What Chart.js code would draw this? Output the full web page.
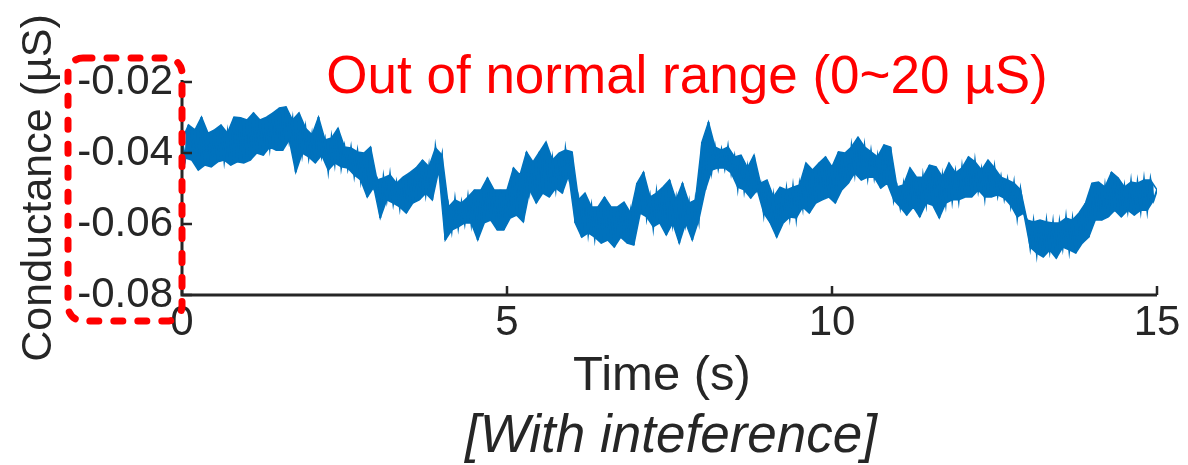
<!DOCTYPE html>
<html>
<head>
<meta charset="utf-8">
<script src="https://cdn.jsdelivr.net/npm/chart.js@4.4.1/dist/chart.umd.min.js"></script>
<style>
  html, body { margin: 0; padding: 0; background: #fff; }
  #wrap { width: 1188px; height: 465px; }
</style>
</head>
<body>
<div id="wrap"><canvas id="chart" width="1188" height="465"></canvas></div>
<script>
var SAMPLE_STEP = 0.05;
var conductance = [
  -0.0363, -0.0414, -0.0321, -0.0420, -0.0335, -0.0448, -0.0299, -0.0434, -0.0344, -0.0439,
  -0.0335, -0.0425, -0.0321, -0.0420, -0.0344, -0.0434, -0.0299, -0.0425, -0.0301, -0.0428,
  -0.0307, -0.0420, -0.0287, -0.0400, -0.0307, -0.0406, -0.0299, -0.0383, -0.0287, -0.0392,
  -0.0273, -0.0392, -0.0270, -0.0363, -0.0307, -0.0454, -0.0287, -0.0400, -0.0330, -0.0411,
  -0.0349, -0.0428, -0.0299, -0.0406, -0.0363, -0.0448, -0.0358, -0.0428, -0.0330, -0.0439,
  -0.0383, -0.0442, -0.0386, -0.0462, -0.0397, -0.0476, -0.0400, -0.0524, -0.0383, -0.0496,
  -0.0476, -0.0583, -0.0470, -0.0532, -0.0462, -0.0541, -0.0485, -0.0552, -0.0468, -0.0569,
  -0.0456, -0.0541, -0.0442, -0.0532, -0.0420, -0.0513, -0.0439, -0.0532, -0.0386, -0.0448,
  -0.0406, -0.0645, -0.0552, -0.0617, -0.0532, -0.0608, -0.0541, -0.0597, -0.0524, -0.0597,
  -0.0504, -0.0645, -0.0504, -0.0597, -0.0470, -0.0589, -0.0504, -0.0617, -0.0504, -0.0617,
  -0.0504, -0.0583, -0.0442, -0.0575, -0.0462, -0.0594, -0.0397, -0.0504, -0.0425, -0.0541,
  -0.0397, -0.0513, -0.0369, -0.0524, -0.0420, -0.0499, -0.0400, -0.0513, -0.0392, -0.0462,
  -0.0397, -0.0597, -0.0532, -0.0637, -0.0513, -0.0625, -0.0552, -0.0637, -0.0552, -0.0654,
  -0.0524, -0.0645, -0.0552, -0.0665, -0.0552, -0.0637, -0.0538, -0.0654, -0.0569, -0.0659,
  -0.0485, -0.0569, -0.0454, -0.0580, -0.0524, -0.0608, -0.0513, -0.0597, -0.0496, -0.0631,
  -0.0476, -0.0597, -0.0532, -0.0654, -0.0485, -0.0597, -0.0541, -0.0645, -0.0532, -0.0589,
  -0.0369, -0.0504, -0.0313, -0.0448, -0.0383, -0.0442, -0.0392, -0.0442, -0.0383, -0.0456,
  -0.0411, -0.0496, -0.0406, -0.0504, -0.0442, -0.0527, -0.0406, -0.0504, -0.0485, -0.0569,
  -0.0476, -0.0597, -0.0524, -0.0637, -0.0496, -0.0597, -0.0504, -0.0580, -0.0496, -0.0583,
  -0.0490, -0.0552, -0.0428, -0.0569, -0.0448, -0.0541, -0.0428, -0.0532, -0.0411, -0.0524,
  -0.0439, -0.0541, -0.0397, -0.0504, -0.0400, -0.0485, -0.0383, -0.0456, -0.0355, -0.0476,
  -0.0383, -0.0468, -0.0397, -0.0468, -0.0411, -0.0499, -0.0377, -0.0485, -0.0383, -0.0532,
  -0.0496, -0.0552, -0.0490, -0.0575, -0.0442, -0.0552, -0.0468, -0.0580, -0.0468, -0.0541,
  -0.0434, -0.0547, -0.0439, -0.0583, -0.0468, -0.0541, -0.0428, -0.0532, -0.0456, -0.0532,
  -0.0442, -0.0524, -0.0411, -0.0524, -0.0425, -0.0504, -0.0448, -0.0524, -0.0420, -0.0524,
  -0.0442, -0.0518, -0.0468, -0.0527, -0.0476, -0.0547, -0.0485, -0.0580, -0.0504, -0.0569,
  -0.0589, -0.0665, -0.0594, -0.0682, -0.0589, -0.0693, -0.0594, -0.0673, -0.0597, -0.0696,
  -0.0597, -0.0665, -0.0583, -0.0673, -0.0589, -0.0682, -0.0569, -0.0654, -0.0541, -0.0637,
  -0.0485, -0.0589, -0.0482, -0.0589, -0.0496, -0.0580, -0.0454, -0.0561, -0.0470, -0.0580,
  -0.0496, -0.0561, -0.0482, -0.0575, -0.0485, -0.0561, -0.0476, -0.0561, -0.0476, -0.0532,
  -0.0504
];
var xTicks = [0, 5, 10, 15];
var yTicks = [-0.08, -0.06, -0.04, -0.02];
var chartTitle = 'Out of normal range (0~20 µS)';
var xLabel = 'Time (s)';
var yLabel = 'Conductance (µS)';
var caption = '[With inteference]';

var FONT = '"Liberation Sans", Arial, Helvetica, sans-serif';
var AXIS = '#262626';
var BLUE = '#0072BD';
var points = conductance.map(function (v, i) { return {x: i * SAMPLE_STEP, y: v}; });
// the noisy trace is dense: its peaks and troughs form a filled band
var peaks = points.filter(function (p, i) { return i % 2 === 0; });
var troughs = points.filter(function (p, i) { return i % 2 === 1; });

// axis lines + inward ticks (MATLAB style), labels, red dashed box
var decor = {
  id: 'decor',
  afterDraw: function (chart) {
    var ctx = chart.ctx, a = chart.chartArea;
    var xs = chart.scales.x, ys = chart.scales.y;
    ctx.save();
    ctx.strokeStyle = AXIS;
    ctx.lineWidth = 3;
    ctx.beginPath();
    ctx.moveTo(a.left, a.top - 2); ctx.lineTo(a.left, a.bottom); ctx.lineTo(a.right, a.bottom);
    ctx.stroke();
    ctx.lineWidth = 2.5;
    ctx.beginPath();
    xTicks.forEach(function (t) {
      var px = xs.getPixelForValue(t);
      ctx.moveTo(px, a.bottom); ctx.lineTo(px, a.bottom - 9);
    });
    yTicks.forEach(function (t) {
      var py = ys.getPixelForValue(t);
      ctx.moveTo(a.left, py); ctx.lineTo(a.left + 10, py);
    });
    ctx.stroke();

    ctx.fillStyle = AXIS;
    ctx.textAlign = 'center';
    ctx.textBaseline = 'alphabetic';
    ctx.font = '49px ' + FONT;
    ctx.fillText(xLabel, 662, 390);
    ctx.font = 'italic 53px ' + FONT;
    ctx.fillText(caption, 671, 452);
    ctx.save();
    ctx.translate(51, 188);
    ctx.rotate(-Math.PI / 2);
    ctx.font = '43px ' + FONT;
    ctx.fillText(yLabel, 0, 0);
    ctx.restore();

    ctx.fillStyle = '#FF0000';
    ctx.font = '53px ' + FONT;
    ctx.fillText(chartTitle, 687, 93);

    ctx.strokeStyle = '#FF0000';
    ctx.lineWidth = 7;
    ctx.lineCap = 'round';
    ctx.setLineDash([9, 15]);
    ctx.beginPath();
    ctx.roundRect(68, 58, 114, 263, 15);
    ctx.stroke();
    ctx.restore();
  }
};

new Chart(document.getElementById('chart'), {
  type: 'scatter',
  data: {
    datasets: [
      {data: points, showLine: true, borderColor: BLUE, borderWidth: 2, pointRadius: 0, tension: 0},
      {data: peaks, showLine: true, borderColor: BLUE, borderWidth: 1.5, pointRadius: 0, tension: 0},
      {data: troughs, showLine: true, borderColor: BLUE, borderWidth: 1.5, pointRadius: 0, tension: 0,
       fill: 1, backgroundColor: BLUE}
    ]
  },
  options: {
    responsive: false,
    animation: false,
    devicePixelRatio: 1,
    layout: {padding: {left: 0, right: 31, top: 82, bottom: 0}},
    plugins: {legend: {display: false}, tooltip: {enabled: false}},
    scales: {
      x: {
        type: 'linear', min: 0, max: 15,
        afterFit: function (s) { s.height = 170; },
        afterBuildTicks: function (s) { s.ticks = xTicks.map(function (v) { return {value: v}; }); },
        grid: {display: false, drawTicks: false},
        border: {display: false},
        ticks: {color: AXIS, font: {family: FONT, size: 42}, padding: 3, maxRotation: 0}
      },
      y: {
        type: 'linear', min: -0.08, max: -0.02,
        afterFit: function (s) { s.width = 182; },
        afterBuildTicks: function (s) { s.ticks = yTicks.map(function (v) { return {value: v}; }); },
        grid: {display: false, drawTicks: false},
        border: {display: false},
        ticks: {
          color: AXIS, font: {family: FONT, size: 42}, padding: 9,
          callback: function (v) { return v.toFixed(2); }
        }
      }
    }
  },
  plugins: [decor]
});
</script>
</body>
</html>
